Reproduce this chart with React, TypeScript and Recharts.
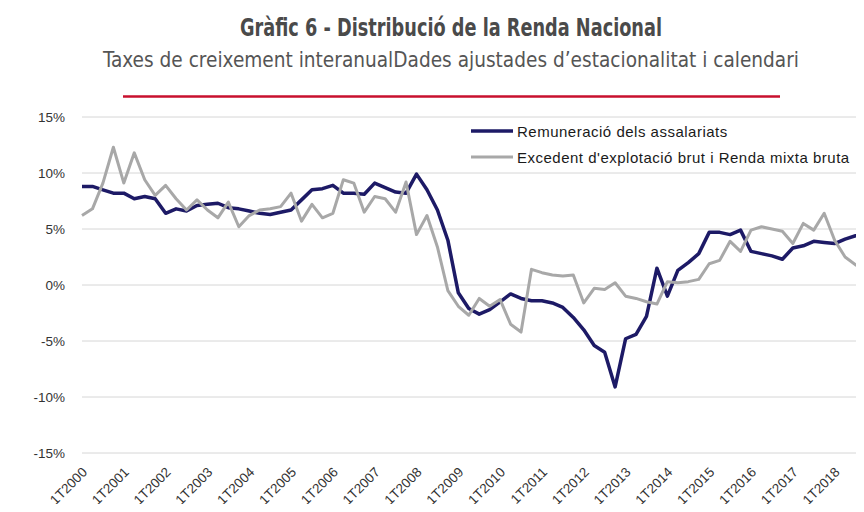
import React from 'react';
import { LineChart, Line, XAxis, YAxis, CartesianGrid, Legend } from 'recharts';

const title = 'Gràfic 6 - Distribució de la Renda Nacional';
const subtitle = 'Taxes de creixement interanualDades ajustades d’estacionalitat i calendari';

const years = [
  2000, 2001, 2002, 2003, 2004, 2005, 2006, 2007, 2008, 2009,
  2010, 2011, 2012, 2013, 2014, 2015, 2016, 2017, 2018,
];
const quarterNames = ['1T', '2T', '3T', '4T'];
const quarters = years.flatMap((y) => quarterNames.map((q) => `${q}${y}`));

// Remuneració dels assalariats (% interanual)
const remuneracio = [
  8.8, 8.8, 8.5, 8.2, 8.2, 7.7, 7.9, 7.7, 6.4, 6.8,
  6.6, 7.1, 7.2, 7.3, 6.9, 6.8, 6.6, 6.4, 6.3, 6.5,
  6.7, 7.6, 8.5, 8.6, 8.9, 8.2, 8.2, 8.1, 9.1, 8.7,
  8.3, 8.2, 9.9, 8.5, 6.7, 4.0, -0.7, -2.1, -2.6, -2.2,
  -1.5, -0.8, -1.2, -1.4, -1.4, -1.6, -2.0, -2.9, -4.0, -5.4,
  -6.0, -9.1, -4.8, -4.4, -2.8, 1.5, -1.0, 1.3, 2.0, 2.8,
  4.7, 4.7, 4.5, 4.9, 3.0, 2.8, 2.6, 2.3, 3.3, 3.5,
  3.9, 3.8, 3.7, 4.1, 4.4, 4.5,
];

// Excedent d'explotació brut i Renda mixta bruta (% interanual)
const excedent = [
  6.2, 6.8, 9.1, 12.3, 9.1, 11.8, 9.4, 8.0, 8.9, 7.7,
  6.7, 7.6, 6.7, 6.0, 7.4, 5.2, 6.2, 6.7, 6.8, 7.0,
  8.2, 5.7, 7.2, 6.0, 6.4, 9.4, 9.1, 6.5, 7.9, 7.7,
  6.5, 9.2, 4.5, 6.2, 3.4, -0.5, -1.9, -2.7, -1.2, -1.9,
  -1.3, -3.5, -4.2, 1.4, 1.1, 0.9, 0.8, 0.9, -1.6, -0.3,
  -0.4, 0.2, -1.0, -1.2, -1.5, -1.7, 0.3, 0.2, 0.3, 0.5,
  1.9, 2.2, 3.9, 3.0, 4.9, 5.2, 5.0, 4.8, 3.7, 5.5,
  4.9, 6.4, 4.0, 2.5, 1.8, 1.3,
];

const yTicks = [-15, -10, -5, 0, 5, 10, 15];

const series = [
  { key: 'rem', name: 'Remuneració dels assalariats', color: '#1d1a66', width: 3.5 },
  { key: 'exc', name: "Excedent d'explotació brut i Renda mixta bruta", color: '#a8a8a8', width: 3 },
];

const data = quarters.map((q, i) => ({ q, rem: remuneracio[i], exc: excedent[i] }));

const sans = '"Liberation Sans", Arial, sans-serif';
const narrow = '"Liberation Sans Narrow", "DejaVu Sans Condensed", sans-serif';

// rotated quarter label, rotation on the group so the text itself stays plain
function XTick(props: any) {
  const { x, y, payload } = props;
  return (
    <g transform={`translate(${x + 6} ${y + 12}) rotate(-45)`}>
      <text x={0} y={0} textAnchor="end" fontSize={13.5} fontFamily={sans} fill="#333">
        {payload.value}
      </text>
    </g>
  );
}

function LegendContent() {
  return (
    <div>
      {series.map((s) => (
        <div key={s.key} style={{ display: 'flex', alignItems: 'center', height: 26 }}>
          <svg width={46} height={10} style={{ display: 'block' }}>
            <line x1={0} x2={42} y1={5} y2={5} stroke={s.color} strokeWidth={s.width} />
          </svg>
          <span
            style={{
              fontFamily: sans,
              fontSize: 15,
              letterSpacing: 0.5,
              color: '#1a1a1a',
              whiteSpace: 'nowrap',
            }}
          >
            {s.name}
          </span>
        </div>
      ))}
    </div>
  );
}

export default function App() {
  return (
    <div
      style={{
        position: 'relative',
        width: 864,
        height: 512,
        margin: -8,
        overflow: 'hidden',
        background: '#fff',
      }}
    >
      <svg width={864} height={110} style={{ position: 'absolute', left: 0, top: 0 }}>
        <text
          x={451}
          y={36}
          textAnchor="middle"
          textLength={422}
          lengthAdjust="spacingAndGlyphs"
          fontSize={25}
          fontWeight={700}
          fontFamily={narrow}
          fill="#4a4a4a"
        >
          {title}
        </text>
        <text
          x={451}
          y={67}
          textAnchor="middle"
          textLength={696}
          lengthAdjust="spacingAndGlyphs"
          fontSize={22}
          fontFamily={narrow}
          fill="#555"
        >
          {subtitle}
        </text>
        <line x1={123} x2={780} y1={96.5} y2={96.5} stroke="#c8102e" strokeWidth={2.5} />
      </svg>
      <div style={{ position: 'absolute', left: 0, top: 0 }}>
        <LineChart
          width={868}
          height={512}
          data={data}
          margin={{ top: 117, right: 2, bottom: 19, left: 0 }}
        >
          <CartesianGrid vertical={false} stroke="#d6d6d6" strokeWidth={1} />
          <XAxis
            dataKey="q"
            interval={3}
            height={40}
            axisLine={false}
            tickLine={false}
            tick={<XTick />}
          />
          <YAxis
            type="number"
            domain={[-15, 15]}
            ticks={yTicks}
            width={82}
            tickMargin={11}
            axisLine={false}
            tickLine={false}
            tickFormatter={(v: number) => `${v}%`}
            tick={{ fill: '#333', fontSize: 13.5, fontFamily: sans }}
          />
          <Legend
            layout="vertical"
            align="center"
            verticalAlign="middle"
            wrapperStyle={{ top: 118, left: 471, width: 400, height: 52 }}
            content={<LegendContent />}
          />
          {series.map((s) => (
            <Line
              key={s.key}
              type="linear"
              dataKey={s.key}
              name={s.name}
              stroke={s.color}
              strokeWidth={s.width}
              strokeLinejoin="round"
              dot={false}
              activeDot={false}
              isAnimationActive={false}
            />
          ))}
        </LineChart>
      </div>
    </div>
  );
}
